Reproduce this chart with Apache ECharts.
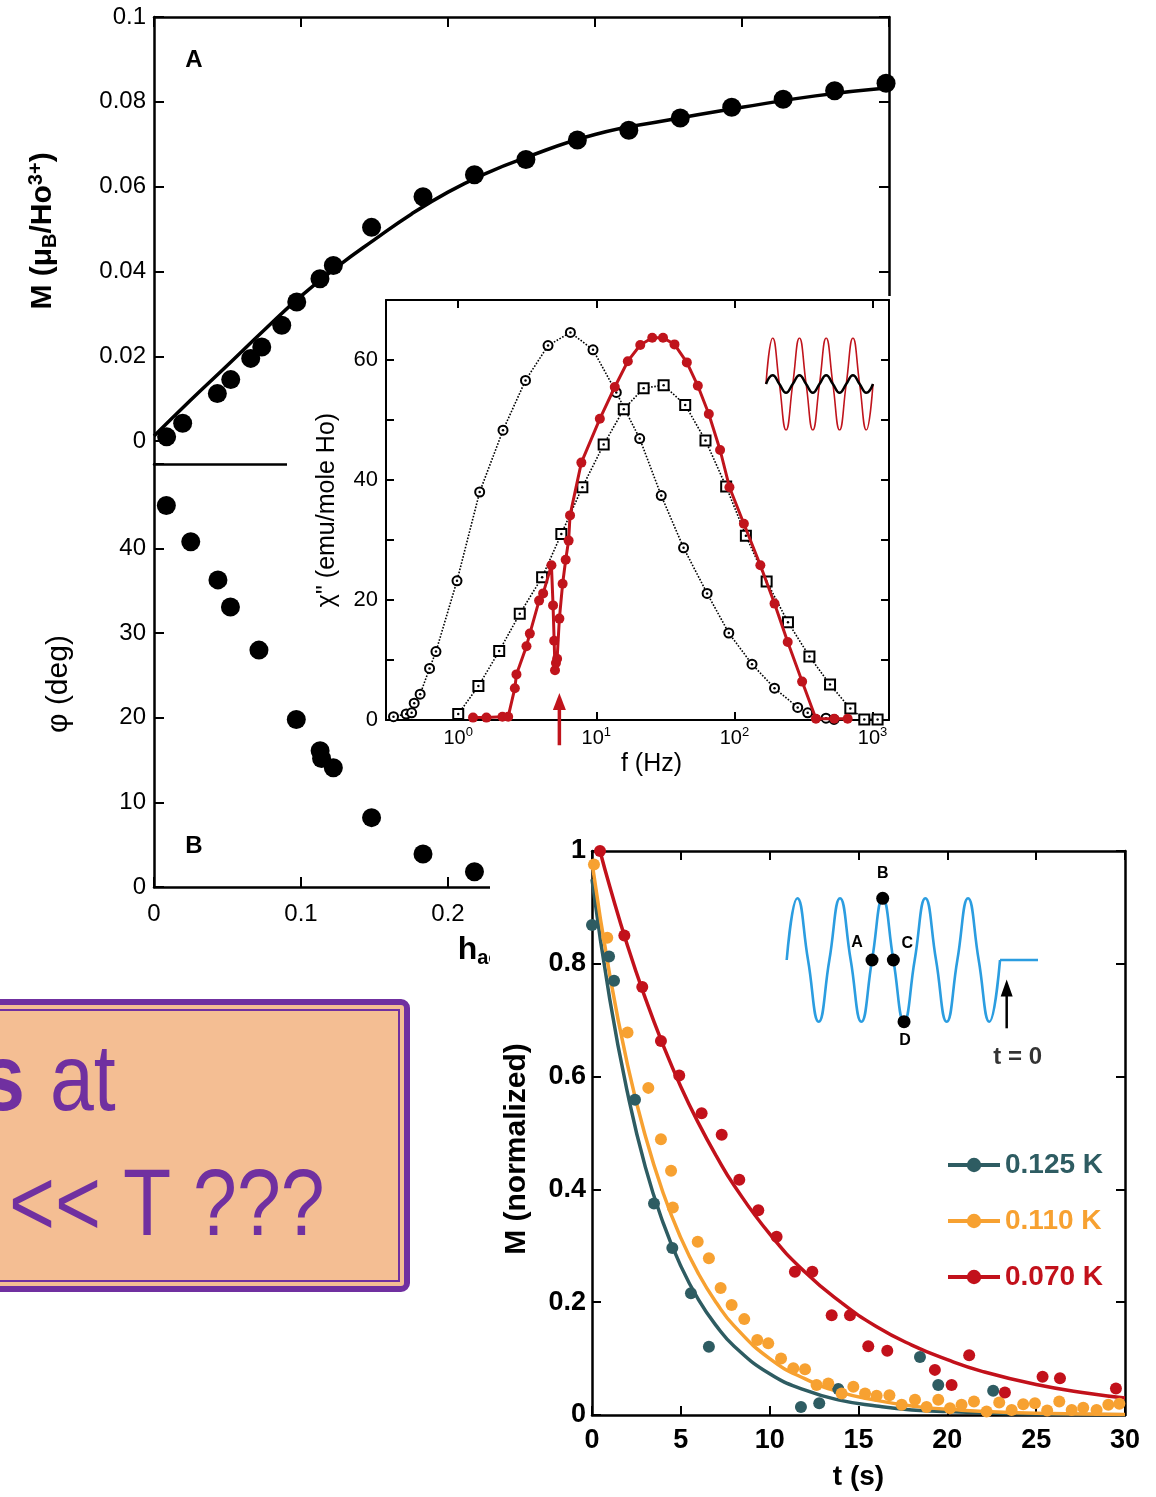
<!DOCTYPE html>
<html><head><meta charset="utf-8">
<script src="https://cdn.jsdelivr.net/npm/echarts@6/dist/echarts.min.js"></script>
<style>html,body{margin:0;padding:0;background:#fff}#c{width:1156px;height:1497px}</style>
</head><body><div id="c"></div>
<script>
// ---------- Panel A : M vs h ----------
const aH = [0.0086,0.0195,0.0431,0.0522,0.0658,0.0733,0.0869,0.0971,0.1129,0.122,0.148,0.183,0.218,0.253,0.288,0.323,0.358,0.393,0.428,0.463,0.498];
const aM = [0.0010,0.0042,0.0112,0.0145,0.0195,0.0222,0.0273,0.0328,0.0383,0.0414,0.0504,0.0576,0.0628,0.0664,0.0710,0.0733,0.0762,0.0787,0.0806,0.0826,0.0844];
const aFitH = [0,0.025,0.05,0.075,0.1,0.125,0.15,0.175,0.2,0.225,0.25,0.3,0.35,0.4,0.45,0.5];
const aFitM = [0.0012,0.0097,0.0179,0.0262,0.0342,0.0412,0.0475,0.0535,0.0587,0.0630,0.0665,0.0723,0.0757,0.0787,0.0814,0.0833];
const aYTicks = [0,0.02,0.04,0.06,0.08,0.1];
// ---------- Panel B : phase vs h ----------
const bH = [0.0084,0.025,0.0435,0.052,0.0714,0.0968,0.113,0.114,0.122,0.148,0.183,0.218];
const bPhi = [45.1,40.8,36.3,33.1,28.0,19.8,16.1,15.2,14.1,8.2,3.9,1.8];
const bYLabels = [0,10,20,30,40];
// ---------- Inset : chi'' vs f ----------
const inCircF = [0.34,0.42,0.46,0.48,0.53,0.62,0.69,0.98,1.43,2.11,3.07,4.47,6.49,9.46,13.95,20.6,29.5,42.8,63.4,91,134,195,287,339,460,526];
const inCircY = [0.55,1.0,1.2,2.8,4.3,8.6,11.4,23.2,38.0,48.3,56.6,62.4,64.6,61.7,54.6,46.9,37.4,28.7,21.1,14.5,9.3,5.3,2.1,1.2,0.3,0.1];
const inSqF = [1.0,1.40,1.98,2.79,4.05,5.58,7.92,11.3,15.8,22.0,30.7,44.0,61.7,87.1,121,171,244,349,492,690,871,1087];
const inSqY = [1.0,5.65,11.5,17.7,23.8,31.0,38.8,45.9,51.8,55.3,55.8,52.5,46.6,38.9,30.7,23.1,16.3,10.6,5.9,1.9,0.1,0.1];
const inRedF = [1.28,1.60,2.09,2.30,2.57,2.64,3.12,3.30,3.85,4.12,4.73,4.86,4.95,5.02,5.10,5.20,5.40,5.70,6.00,6.30,6.45,7.79,10.6,13.6,16.9,20.8,25.4,30.4,36.8,45.2,54.3,65.2,78.7,92,117,154,195,243,309,389,528,660];
const inRedY = [0.4,0.4,0.55,0.55,5.3,7.6,12.3,14.4,19.9,21.1,25.8,19.1,13.2,8.3,9.5,10.2,16.9,22.7,26.7,29.9,34.1,42.9,50.2,55.5,59.8,62.5,63.7,63.7,62.6,59.6,55.7,51.0,45.0,38.8,32.7,25.8,19.4,13.0,6.4,0.2,0.2,0.2];
const inYLabels = [0,20,40,60];
const inArrowF = 5.4;
const inArrowY = [-4.2, 3.1];
// small drive/response sketch in the inset
const chiWaveX = [0,0.25,0.5,0.75,1,1.25,1.5,1.75,2,2.25,2.5,2.75,3,3.25,3.5,3.75,4];
const chiRedWave = [0,1,0,-1,0,1,0,-1,0,1,0,-1,0,1,0,-1,0];
const chiBlackWave = [0,0.19,0,-0.19,0,0.19,0,-0.19,0,0.19,0,-0.19,0,0.19,0,-0.19,0];
// ---------- Bottom-right : relaxation ----------
const tealT = [0,0.96,1.24,2.42,3.49,4.52,5.57,6.58,11.76,12.79,13.86,18.46,19.49,22.58];
const tealM = [0.869,0.813,0.770,0.559,0.375,0.296,0.216,0.121,0.014,0.021,0.046,0.103,0.053,0.043];
const orangeT = [0.11,0.86,2.0,3.17,3.88,4.45,4.55,5.95,6.58,7.24,7.86,8.57,9.30,9.92,10.64,11.33,11.99,12.64,13.30,14.05,14.71,15.37,16.02,16.74,17.43,18.18,18.83,19.49,20.15,20.80,21.50,22.21,22.92,23.62,24.27,24.93,25.62,26.30,27.0,27.65,28.40,29.06,29.68];
const orangeM = [0.976,0.846,0.678,0.580,0.489,0.433,0.368,0.307,0.278,0.225,0.195,0.170,0.133,0.127,0.100,0.083,0.081,0.053,0.056,0.038,0.050,0.038,0.034,0.035,0.018,0.027,0.014,0.027,0.012,0.018,0.024,0.006,0.022,0.009,0.019,0.021,0.008,0.024,0.009,0.013,0.009,0.018,0.020];
const redT = [0.45,1.82,2.83,3.88,4.91,6.17,7.30,8.29,9.36,10.39,11.42,12.40,13.49,14.52,15.55,16.62,19.30,20.24,21.23,23.24,25.36,26.34,29.49];
const redM = [1.0,0.850,0.759,0.663,0.602,0.535,0.497,0.417,0.363,0.316,0.254,0.254,0.177,0.177,0.122,0.114,0.080,0.053,0.106,0.040,0.068,0.065,0.047];
const fitT = [0,1,2,3,4,5,6,7,8,10,12,14,16,18,20,25,30];
const tealFit = [0.95,0.737,0.571,0.440,0.341,0.264,0.204,0.158,0.122,0.073,0.044,0.026,0.016,0.009,0.006,0.0016,0.0004];
const orangeFit = [0.98,0.780,0.621,0.495,0.394,0.314,0.250,0.199,0.158,0.100,0.064,0.040,0.026,0.016,0.010,0.003,0.001];
const redFitT = [0.45,1,2,3,4,5,6,7,8,10,12,14,16,18,20,22,25,28,30];
const redFit = [1.0,0.937,0.832,0.739,0.656,0.582,0.517,0.459,0.407,0.321,0.253,0.200,0.157,0.124,0.098,0.077,0.054,0.038,0.030];
const seriesNames = ['0.125 K','0.110 K','0.070 K'];
// drive-field sketch
const brWaveX = [0,0.25,0.5,0.75,1,1.25,1.5,1.75,2,2.25,2.5,2.75,3,3.25,3.5,3.75,4,4.25,4.5,4.75,5];
const brWaveY = [0,1,0,-1,0,1,0,-1,0,1,0,-1,0,1,0,-1,0,1,0,-1,0];
const brFlatX = [5,5.89];
const brFlatY = [0,0];
const brMarkX = [2,2.25,2.5,2.75];
const brMarkY = [0,1,0,-1];
const brMarkNames = ['A','B','C','D'];
const brArrowX = 5.156;
const brArrowY = [-1.107,-0.454];

// ---------- styling ----------
const F = "'Liberation Sans', Arial, Helvetica, sans-serif";
const TEAL='#2e5c62', ORANGE='#f7a131', RED='#c2111b', CRED='#c0141c', BLUE='#2b9de0', PURPLE='#7030a0', PEACH='#f4be93';
const zip = (a,b) => a.map((v,i)=>[v,b[i]]);
function AL(w){return {show:true,onZero:false,lineStyle:{color:'#000',width:w}};}
function TK(len,vals){const t={show:true,inside:true,length:len,lineStyle:{color:'#000',width:2}}; if(vals) t.customValues=vals; return t;}
const NOLAB={show:false}, NOSPLIT={show:false};
function lab(size,extra){return Object.assign({show:true,fontSize:size,color:'#000',fontFamily:F},extra||{});}

const chart = echarts.init(document.getElementById('c'), null, {renderer:'canvas'});

const xAxis = [
 {gridIndex:0,type:'value',min:0,max:0.5,position:'bottom',z:1,axisLine:AL(2.5),axisTick:{show:false},axisLabel:NOLAB,splitLine:NOSPLIT},
 {gridIndex:0,type:'value',min:0,max:0.5,interval:0.1,position:'top',z:1,axisLine:AL(2.5),axisTick:TK(10),axisLabel:NOLAB,splitLine:NOSPLIT},
 {gridIndex:1,type:'value',min:0,max:0.5,interval:0.1,position:'bottom',z:1,axisLine:AL(2.5),axisTick:TK(10),
   axisLabel:lab(24,{margin:15}),splitLine:NOSPLIT,
   name:'{m|h}{sub|ac}{m| (Oe)}',nameLocation:'middle',nameGap:45,
   nameTextStyle:{padding:[0,13,0,0],rich:{
     m:{fontSize:32,fontWeight:'bold',fontFamily:F,color:'#000',lineHeight:36},
     sub:{fontSize:20,fontWeight:'bold',fontFamily:F,color:'#000',verticalAlign:'bottom',lineHeight:20,padding:[16,0,0,0]}}}},
 {gridIndex:2,type:'log',logBase:10,min:0.3,max:1315,position:'bottom',z:6,axisLine:AL(2),axisTick:TK(8),
   axisLabel:{show:true,showMinLabel:false,showMaxLabel:false,margin:6,
     formatter:v=>'{b|10}{sup|'+Math.round(Math.log10(v))+'}',
     rich:{b:{fontSize:20,fontFamily:F,color:'#000',verticalAlign:'bottom',lineHeight:22},
           sup:{fontSize:13,fontFamily:F,color:'#000',verticalAlign:'top',lineHeight:14,padding:[0,0,12,0]}}},
   splitLine:NOSPLIT,name:'f (Hz)',nameLocation:'middle',nameGap:30,
   nameTextStyle:{fontSize:25,color:'#000',fontFamily:F,padding:[0,0,0,28]}},
 {gridIndex:2,type:'log',logBase:10,min:0.3,max:1315,position:'top',z:6,axisLine:AL(2),axisTick:TK(8),axisLabel:NOLAB,splitLine:NOSPLIT},
 {gridIndex:3,type:'value',min:0,max:4,show:false},
 {gridIndex:4,type:'value',min:0,max:30,interval:5,position:'bottom',z:11,axisLine:AL(2.5),axisTick:TK(9),
   axisLabel:lab(27,{fontWeight:'bold',margin:12}),splitLine:NOSPLIT,
   name:'t (s)',nameLocation:'middle',nameGap:48,nameTextStyle:{fontSize:28,fontWeight:'bold',color:'#000',fontFamily:F}},
 {gridIndex:4,type:'value',min:0,max:30,interval:5,position:'top',z:11,axisLine:AL(2.5),axisTick:TK(9),axisLabel:NOLAB,splitLine:NOSPLIT},
 {gridIndex:5,type:'value',min:0,max:5.89,show:false}
];

const yAxis = [
 {gridIndex:0,type:'value',min:-0.0054,max:0.1,position:'left',z:1,axisLine:AL(2.5),axisTick:TK(10,aYTicks),
   axisLabel:lab(24,{customValues:aYTicks,margin:8}),splitLine:NOSPLIT,
   name:'{m|M (μ}{sub|B}{m|/Ho}{sup|3+}{m|)}',nameLocation:'middle',nameRotate:90,nameGap:94,
   nameTextStyle:{padding:[0,0,0,19],rich:{
     m:{fontSize:30,fontWeight:'bold',fontFamily:F,color:'#000',lineHeight:34},
     sub:{fontSize:20,fontWeight:'bold',fontFamily:F,color:'#000',verticalAlign:'bottom',lineHeight:20,padding:[14,0,0,0]},
     sup:{fontSize:20,fontWeight:'bold',fontFamily:F,color:'#000',verticalAlign:'top',lineHeight:20,padding:[0,0,14,0]}}}},
 {gridIndex:0,type:'value',min:-0.0054,max:0.1,position:'right',z:1,axisLine:AL(2.5),axisTick:TK(10,aYTicks),axisLabel:NOLAB,splitLine:NOSPLIT},
 {gridIndex:1,type:'value',min:0,max:50,interval:10,position:'left',z:1,axisLine:AL(2.5),axisTick:TK(10),
   axisLabel:lab(24,{customValues:bYLabels,margin:8}),splitLine:NOSPLIT,
   name:'φ (deg)',nameLocation:'middle',nameRotate:90,nameGap:80,
   nameTextStyle:{fontSize:30,color:'#000',fontFamily:F,padding:[0,17,0,0]}},
 {gridIndex:1,type:'value',min:0,max:50,position:'right',z:1,axisLine:AL(2.5),axisTick:{show:false},axisLabel:NOLAB,splitLine:NOSPLIT},
 {gridIndex:2,type:'value',min:0,max:70,interval:10,position:'left',z:6,axisLine:AL(2),axisTick:TK(8),
   axisLabel:lab(22,{customValues:inYLabels,margin:8}),splitLine:NOSPLIT,
   name:'χ" (emu/mole Ho)',nameLocation:'middle',nameRotate:90,nameGap:46,
   nameTextStyle:{fontSize:25,color:'#000',fontFamily:F}},
 {gridIndex:2,type:'value',min:0,max:70,interval:10,position:'right',z:6,axisLine:AL(2),axisTick:TK(8),axisLabel:NOLAB,splitLine:NOSPLIT},
 {gridIndex:3,type:'value',min:-1,max:1,show:false},
 {gridIndex:4,type:'value',min:0,max:1,interval:0.2,position:'left',z:11,axisLine:AL(2.5),axisTick:TK(9),
   axisLabel:lab(27,{fontWeight:'bold',margin:6}),splitLine:NOSPLIT,
   name:'M (normalized)',nameLocation:'middle',nameRotate:90,nameGap:60,
   nameTextStyle:{fontSize:30,fontWeight:'bold',color:'#000',fontFamily:F,padding:[0,32,0,0]}},
 {gridIndex:4,type:'value',min:0,max:1,interval:0.2,position:'right',z:11,axisLine:AL(2.5),axisTick:TK(9),axisLabel:NOLAB,splitLine:NOSPLIT},
 {gridIndex:5,type:'value',min:-1,max:1,show:false}
];

const DOT = c => ({color:c,opacity:1});
const series = [
 // Panel A
 {type:'line',xAxisIndex:0,yAxisIndex:0,data:zip(aFitH,aFitM),smooth:true,showSymbol:false,lineStyle:{color:'#000',width:3.5},z:2,silent:true},
 {type:'scatter',xAxisIndex:0,yAxisIndex:0,data:zip(aH,aM),symbolSize:19,itemStyle:DOT('#000'),z:3,clip:false,silent:true},
 // Panel B
 {type:'scatter',xAxisIndex:2,yAxisIndex:2,data:zip(bH,bPhi),symbolSize:19,itemStyle:DOT('#000'),z:3,clip:false,silent:true},
 // Inset chi''
 {type:'line',xAxisIndex:3,yAxisIndex:4,data:zip(inCircF,inCircY),symbol:'emptyCircle',symbolSize:9,
   lineStyle:{type:'dotted',color:'#000',width:1.6},itemStyle:{color:'#000',borderWidth:1.6},z:7,silent:true},
 {type:'line',xAxisIndex:3,yAxisIndex:4,data:zip(inSqF,inSqY),symbol:'emptyRect',symbolSize:10,
   lineStyle:{type:'dotted',color:'#000',width:1.6},itemStyle:{color:'#000',borderWidth:1.8},z:7,silent:true},
 {type:'scatter',xAxisIndex:3,yAxisIndex:4,data:zip(inCircF,inCircY).concat(zip(inSqF,inSqY)),symbolSize:2.5,itemStyle:DOT('#000'),z:7,silent:true},
 {type:'line',xAxisIndex:3,yAxisIndex:4,data:zip(inRedF,inRedY),symbol:'circle',symbolSize:10,
   lineStyle:{color:CRED,width:3},itemStyle:{color:CRED},z:8,silent:true},
 {type:'line',xAxisIndex:3,yAxisIndex:4,clip:false,silent:true,z:8,
   data:[{value:[inArrowF,inArrowY[0]],symbol:'none'},{value:[inArrowF,inArrowY[1]],symbol:'triangle',symbolSize:[13,17]}],
   lineStyle:{color:CRED,width:3.5},itemStyle:{color:CRED}},
 {type:'line',xAxisIndex:5,yAxisIndex:6,data:zip(chiWaveX,chiRedWave),smooth:true,showSymbol:false,lineStyle:{color:CRED,width:1.6},z:7,silent:true},
 {type:'line',xAxisIndex:5,yAxisIndex:6,data:zip(chiWaveX,chiBlackWave),smooth:true,showSymbol:false,lineStyle:{color:'#000',width:2.5},z:7,silent:true},
 // Bottom-right fits (carry legend icon)
 {name:seriesNames[0],type:'line',xAxisIndex:6,yAxisIndex:7,data:zip(fitT,tealFit),smooth:true,showSymbol:false,symbol:'circle',lineStyle:{color:TEAL,width:3.5},itemStyle:{color:TEAL},z:12,silent:true},
 {name:seriesNames[1],type:'line',xAxisIndex:6,yAxisIndex:7,data:zip(fitT,orangeFit),smooth:true,showSymbol:false,symbol:'circle',lineStyle:{color:ORANGE,width:3.5},itemStyle:{color:ORANGE},z:12,silent:true},
 {name:seriesNames[2],type:'line',xAxisIndex:6,yAxisIndex:7,data:zip(redFitT,redFit),smooth:true,showSymbol:false,symbol:'circle',lineStyle:{color:RED,width:3.5},itemStyle:{color:RED},z:12,silent:true},
 {name:seriesNames[0],type:'scatter',xAxisIndex:6,yAxisIndex:7,data:zip(tealT,tealM),symbolSize:12,itemStyle:DOT(TEAL),z:13,clip:false,silent:true},
 {name:seriesNames[1],type:'scatter',xAxisIndex:6,yAxisIndex:7,data:zip(orangeT,orangeM),symbolSize:12,itemStyle:DOT(ORANGE),z:13,clip:false,silent:true},
 {name:seriesNames[2],type:'scatter',xAxisIndex:6,yAxisIndex:7,data:zip(redT,redM),symbolSize:12,itemStyle:DOT(RED),z:13,clip:false,silent:true},
 // drive-field sketch
 {type:'line',xAxisIndex:8,yAxisIndex:9,data:zip(brWaveX,brWaveY),smooth:true,showSymbol:false,lineStyle:{color:BLUE,width:2.6},z:12,silent:true},
 {type:'line',xAxisIndex:8,yAxisIndex:9,data:zip(brFlatX,brFlatY),showSymbol:false,lineStyle:{color:BLUE,width:2.6},z:12,silent:true},
 {type:'scatter',xAxisIndex:8,yAxisIndex:9,symbolSize:13,itemStyle:DOT('#000'),z:13,silent:true,clip:false,
   data:brMarkX.map((x,i)=>({value:[x,brMarkY[i]],name:brMarkNames[i],
     label:{show:true,position:'inside',formatter:'{b}',fontSize:16,fontWeight:'bold',color:'#000',fontFamily:F,
       offset:[[-15,-17],[0,-25],[14,-16],[1,19]][i]}}))},
 {type:'line',xAxisIndex:8,yAxisIndex:9,clip:false,silent:true,z:13,
   data:[{value:[brArrowX,brArrowY[0]],symbol:'none'},
         {value:[brArrowX,brArrowY[1]],symbol:'triangle',symbolSize:[12,17]}],
   lineStyle:{color:'#000',width:2.5},itemStyle:{color:'#000'}},
 {type:'scatter',xAxisIndex:8,yAxisIndex:9,clip:false,silent:true,z:13,symbolSize:2,
   itemStyle:{color:'rgba(0,0,0,0)'},
   data:[{value:[brArrowX,brArrowY[0]],name:'t = 0'}],
   label:{show:true,position:'bottom',distance:16,offset:[11,0],formatter:'{b}',fontSize:24,fontWeight:'bold',color:'#000',fontFamily:F}}
];

const option = {
  animation:false,
  backgroundColor:'#fff',
  grid:[
    {left:154,top:17,width:735,height:447},
    {left:154,top:464,width:735,height:423},
    {left:386,top:300,width:503,height:420},
    {left:766,top:338,width:107,height:92},
    {left:592,top:851,width:533,height:564},
    {left:786.7,top:898.3,width:251.3,height:123.4}
  ],
  xAxis, yAxis, series,
  legend:{
    data:[{name:seriesNames[0],textStyle:{color:TEAL}},{name:seriesNames[1],textStyle:{color:ORANGE}},{name:seriesNames[2],textStyle:{color:RED}}],
    orient:'vertical',left:946,top:1150,padding:0,itemWidth:52,itemHeight:18,itemGap:26,selectedMode:false,z:14,
    lineStyle:{width:4},
    textStyle:{fontSize:28,fontWeight:'bold',fontFamily:F,lineHeight:30}
  },
  graphic:[
    {type:'text',z:3,x:194,y:60,style:{text:'A',font:'bold 24px '+F,fill:'#000',align:'center',verticalAlign:'middle'}},
    {type:'text',z:3,x:194,y:846,style:{text:'B',font:'bold 24px '+F,fill:'#000',align:'center',verticalAlign:'middle'}},
    {type:'rect',z:5,shape:{x:386,y:296,width:507,height:496},style:{fill:'#fff'}},
    {type:'rect',z:5,shape:{x:287,y:400,width:100,height:220},style:{fill:'#fff'}},
    {type:'rect',z:10,shape:{x:490,y:792,width:670,height:710},style:{fill:'#fff'}},
    {type:'rect',z:20,shape:{x:-20,y:1002,width:427,height:287,r:6},style:{fill:PEACH,stroke:PURPLE,lineWidth:6}},
    {type:'rect',z:21,shape:{x:-20,y:1010,width:419,height:271},style:{fill:'none',stroke:PURPLE,lineWidth:2}},
    {type:'text',z:22,x:-19,y:1084,scaleX:0.83,style:{text:'s',font:'bold 95px '+F,fill:PURPLE,align:'left',verticalAlign:'middle'}},
    {type:'text',z:22,x:50,y:1084,scaleX:0.83,style:{text:'at',font:'95px '+F,fill:PURPLE,align:'left',verticalAlign:'middle'}},
    {type:'text',z:22,x:9,y:1209,scaleX:0.83,style:{text:'<< T ???',font:'95px '+F,fill:PURPLE,align:'left',verticalAlign:'middle'}}
  ]
};
chart.setOption(option);
</script>
</body></html>
